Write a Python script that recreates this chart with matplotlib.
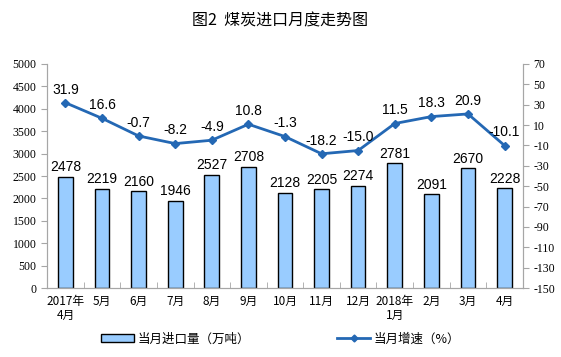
import matplotlib
matplotlib.use("Agg")
import matplotlib.pyplot as plt
import numpy as np
from matplotlib.lines import Line2D
from matplotlib.patches import Patch

plt.rcParams['font.family'] = ['Noto Sans CJK SC', 'DejaVu Sans']
plt.rcParams['axes.unicode_minus'] = False

months = ["2017年\n4月", "5月", "6月", "7月", "8月", "9月", "10月", "11月",
          "12月", "2018年\n1月", "2月", "3月", "4月"]
imports = [2478, 2219, 2160, 1946, 2527, 2708, 2128, 2205, 2274, 2781, 2091, 2670, 2228]
growth = [31.9, 16.6, -0.7, -8.2, -4.9, 10.8, -1.3, -18.2, -15.0, 11.5, 18.3, 20.9, -10.1]
growth_labels = ["31.9", "16.6", "-0.7", "-8.2", "-4.9", "10.8", "-1.3", "-18.2",
                 "-15.0", "11.5", "18.3", "20.9", "-10.1"]
left_ticks = np.arange(0, 5001, 500)
right_ticks = np.arange(-150, 71, 20)

bar_color = "#99CCFF"
line_color = "#2468B4"
axis_gray = "#A6A6A6"

fig = plt.figure(figsize=(5.61, 3.57), dpi=100)
ax = fig.add_axes([0.084, 0.193, 0.848, 0.628])
ax2 = ax.twinx()

x = np.arange(len(months))
ax.bar(x, imports, width=0.4, color=bar_color, edgecolor="black", linewidth=1.0, zorder=2)
for xi, v in zip(x, imports):
    ax.text(xi, v + 60, str(v), ha="center", va="bottom", fontsize=10,
            family=["Liberation Sans"])

ax.set_xlim(-0.5, len(months) - 0.5)
ax.set_ylim(0, 5000)
ax.set_yticks(left_ticks)
ax.set_yticklabels([str(t) for t in left_ticks], fontsize=8.5, fontfamily="Liberation Serif")
ax.set_xticks(x)
ax.set_xticklabels(months, fontsize=8.5, linespacing=1.1)
ax.set_xticks(np.arange(-0.5, len(months), 1), minor=True)
ax.tick_params(axis="x", which="major", length=0, pad=5)
ax.tick_params(axis="x", which="minor", length=4, direction="in", color=axis_gray)
ax.tick_params(axis="y", length=4, color=axis_gray)

ax2.plot(x, growth, color=line_color, linewidth=2, marker="D", markersize=4.5, zorder=3)
for xi, v, s in zip(x, growth, growth_labels):
    ax2.text(xi, v + 6, s, ha="center", va="bottom", fontsize=10,
             family=["Liberation Sans"])
ax2.set_ylim(-150, 70)
ax2.set_yticks(right_ticks)
ax2.set_yticklabels([str(t) for t in right_ticks], fontsize=8.5, fontfamily="Liberation Serif")
ax2.tick_params(axis="y", length=4, color=axis_gray)

for a in (ax, ax2):
    a.spines["top"].set_visible(False)
    for s in ("left", "right", "bottom"):
        a.spines[s].set_color(axis_gray)

fig.text(0.5, 0.94, "图2  煤炭进口月度走势图", ha="center", va="center", fontsize=11.5)

handles = [Patch(facecolor=bar_color, edgecolor="black", linewidth=1.0),
           Line2D([], [], color=line_color, linewidth=2, marker="D", markersize=3.5)]
fig.legend(handles, ["当月进口量（万吨）", "当月增速（%）"], loc="center",
           bbox_to_anchor=(0.5, 0.05), ncol=2, frameon=False, fontsize=9,
           columnspacing=7, handlelength=2.6, handleheight=0.6, handletextpad=0.3)

fig.savefig("out.png", dpi=100)
